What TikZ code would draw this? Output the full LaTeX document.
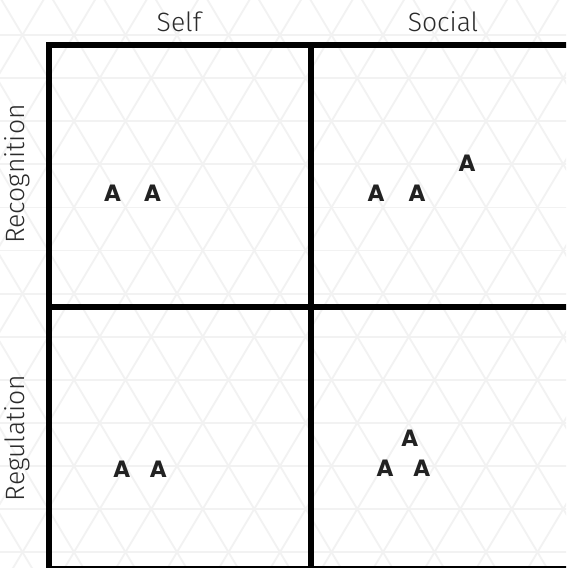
\documentclass[tikz,border=0pt]{standalone}
\usepackage{fontspec}
\setmainfont{Fira Sans}[UprightFont={* Light}]
\newfontfamily\afont{Poppins}
\definecolor{gridcol}{HTML}{F2F2F2}
\definecolor{labcol}{HTML}{2B2B2B}
\definecolor{acol}{HTML}{222222}
\tikzset{
  gridln/.style={draw=gridcol, line width=1.8pt},
  framel/.style={draw=black, line width=5.5pt},
  lab/.style={text=labcol, font=\fontsize{26.5}{30}\selectfont, inner sep=0pt},
  aa/.style={text=acol, font=\afont\bfseries\fontsize{23.5}{26}\selectfont, inner sep=0pt}
}
\begin{document}
\begin{tikzpicture}[x=1pt,y=-1pt]
\useasboundingbox (0,0) rectangle (566,568);
\fill[white] (0,0) rectangle (566,568);
\begin{scope}
\clip (0,0) rectangle (566,568);
\foreach \k in {-1,...,13} \draw[gridln] (-10,{35+43.1*\k}) -- (580,{35+43.1*\k});
\foreach \m in {-8,...,18} {
  \draw[gridln] ({22.5+51.5*\m-0.5975*45},-10) -- ({22.5+51.5*\m+0.5975*555},590);
  \draw[gridln] ({22.5+51.5*\m+0.5975*45},-10) -- ({22.5+51.5*\m-0.5975*555},590);
}
\draw[framel] (49,45) rectangle (573,569);
\draw[framel] (311,45) -- (311,569);
\draw[framel] (49,307) -- (573,307);
\end{scope}
\node[lab, anchor=base] (self) at (179,31) {Self};
\node[lab, anchor=base] (social) at (443,31) {Social};
\node[lab, anchor=base, rotate=90] (recog) at (24,174) {Recognition};
\node[lab, anchor=base, rotate=90] (regul) at (24,438) {Regulation};
\node[aa] (a1) at (112.5,193) {A};
\node[aa] (a2) at (152.5,193) {A};
\node[aa] (b1) at (376,193) {A};
\node[aa] (b2) at (417,193) {A};
\node[aa] (b3) at (467,163.5) {A};
\node[aa] (c1) at (121.7,469) {A};
\node[aa] (c2) at (158.3,469) {A};
\node[aa] (d1) at (409.8,438) {A};
\node[aa] (d2) at (385,468) {A};
\node[aa] (d3) at (421.7,468) {A};
\end{tikzpicture}
\end{document}
